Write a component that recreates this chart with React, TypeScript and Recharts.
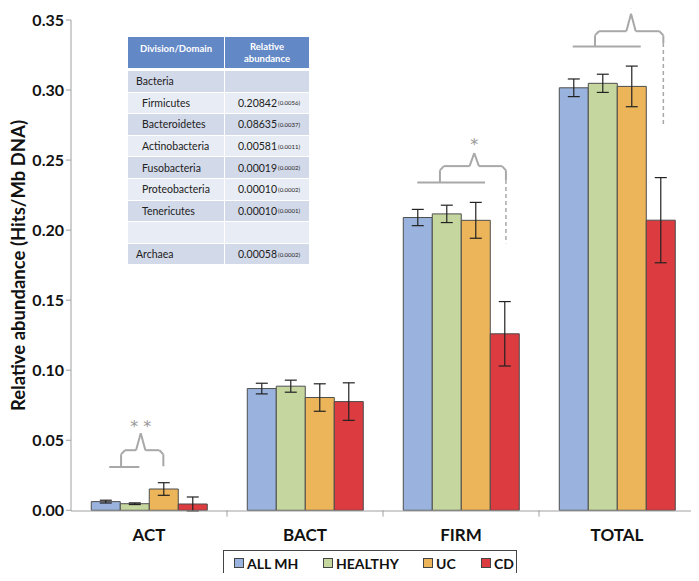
import React from 'react';
import { BarChart, Bar, XAxis, YAxis, ErrorBar, ReferenceLine, Legend } from 'recharts';

const categories = ['ACT', 'BACT', 'FIRM', 'TOTAL'];
const allMh = [0.0062, 0.0869, 0.2090, 0.3016];
const allMhErr = [0.0010, 0.0038, 0.0058, 0.0063];
const healthy = [0.0047, 0.0886, 0.2116, 0.3048];
const healthyErr = [0.0006, 0.0043, 0.0062, 0.0065];
const uc = [0.0152, 0.0805, 0.2070, 0.3026];
const ucErr = [0.0045, 0.0098, 0.0128, 0.0145];
const cd = [0.0045, 0.0776, 0.1260, 0.2071];
const cdErr = [0.0050, 0.0134, 0.0230, 0.0304];

const yTicks = [0, 0.05, 0.1, 0.15, 0.2, 0.25, 0.3, 0.35];

const seriesNames = ['ALL MH', 'HEALTHY', 'UC', 'CD'];
const seriesColors = ['#9ab3de', '#c5d69e', '#edb55a', '#dc3b3f'];

// table in the upper-left
const tableRows = [
  { name: 'Bacteria', value: '', sd: '', indent: false },
  { name: 'Firmicutes', value: '0.20842', sd: '(0.0056)', indent: true },
  { name: 'Bacteroidetes', value: '0.08635', sd: '(0.0037)', indent: true },
  { name: 'Actinobacteria', value: '0.00581', sd: '(0.0011)', indent: true },
  { name: 'Fusobacteria', value: '0.00019', sd: '(0.0002)', indent: true },
  { name: 'Proteobacteria', value: '0.00010', sd: '(0.0002)', indent: true },
  { name: 'Tenericutes', value: '0.00010', sd: '(0.0001)', indent: true },
  { name: '', value: '', sd: '', indent: false },
  { name: 'Archaea', value: '0.00058', sd: '(0.0002)', indent: false },
];

// significance brackets (x in category units on a 0..4 axis, y in data units)
const brackets = [
  { hx1: 0.245, hx2: 0.438, hy: 0.0309, left: 0.321, right: 0.592, center: 0.447, top: 0.0429, peak: 0.0550, rightEnd: 0.0314, dashEnd: null as number | null, stars: '* *', starY: 0.0621 },
  { hx1: 2.220, hx2: 2.654, hy: 0.2340, left: 2.365, right: 2.788, center: 2.585, top: 0.2457, peak: 0.2550, rightEnd: 0.2357, dashEnd: 0.1907 as number | null, stars: '*', starY: 0.2632 },
  { hx1: 3.216, hx2: 3.652, hy: 0.3310, left: 3.359, right: 3.797, center: 3.590, top: 0.3420, peak: 0.3545, rightEnd: 0.3336, dashEnd: 0.2750 as number | null, stars: '*', starY: 0.3608 },
];

const data = categories.map((c, i) => ({
  x: i + 0.5,
  cat: c,
  allMh: allMh[i], allMhErr: allMhErr[i],
  healthy: healthy[i], healthyErr: healthyErr[i],
  uc: uc[i], ucErr: ucErr[i],
  cd: cd[i], cdErr: cdErr[i],
}));

const catTicks = categories.map((_, i) => i + 0.5);
const boundaries = categories.map((_, i) => i + 1);

const FONT = 'Lato, "Open Sans", sans-serif';
const GREY = '#a8a8a8';
const AXIS = '#a0a0a0';
const SHIFT = 12;

const CatTick = (props: any) => {
  const { x, y, payload } = props;
  const v = payload.value as number;
  return (
    <text x={x} y={y + 30} textAnchor="middle" fontFamily={FONT} fontWeight="bold" fontSize={17} fill="#111">
      {categories[Math.floor(v)]}
    </text>
  );
};

const LegendContent = (props: any) => {
  const payload = [...(props.payload || [])].sort(
    (a: any, b: any) => seriesNames.indexOf(a.value) - seriesNames.indexOf(b.value)
  );
  const widths = [89, 100, 58, 34];
  return (
    <div style={{ border: '1.5px solid #444', height: 24, display: 'flex', alignItems: 'center', paddingLeft: 10, boxSizing: 'content-box', background: '#fff' }}>
      {payload.map((p: any, i: number) => (
        <div key={i} style={{ display: 'flex', alignItems: 'center', width: widths[i], whiteSpace: 'nowrap' }}>
          <span style={{ display: 'inline-block', width: 8, height: 8, background: p.color, border: '1px solid #444', marginRight: 3 }} />
          <span style={{ fontFamily: FONT, fontWeight: 'bold', fontSize: 14, color: '#111' }}>{p.value}</span>
        </div>
      ))}
    </div>
  );
};

const StarShape = (text: string) => (p: any) => (
  <text x={p.x1} y={p.y1} dy={8.5} textAnchor="middle" fontFamily='"DejaVu Sans", sans-serif' fontSize={16} fill="#999">
    {text}
  </text>
);

const InfoTable = () => {
  const dark = '#d2d9e9';
  const light = '#e8ecf4';
  return (
    <div style={{ position: 'absolute', left: 128, top: 37 + SHIFT, width: 181, fontFamily: FONT, fontSize: 10.5, color: '#222' }}>
      <div style={{ display: 'flex', height: 31, background: '#6388c6', color: '#fff', fontWeight: 'bold', fontSize: 9.5 }}>
        <div style={{ width: 96, display: 'flex', alignItems: 'center', justifyContent: 'center', paddingBottom: 8 }}>Division/Domain</div>
        <div style={{ width: 1, background: '#fff' }} />
        <div style={{ width: 84, display: 'flex', alignItems: 'center', justifyContent: 'center', textAlign: 'center', lineHeight: '12px' }}>Relative<br />abundance</div>
      </div>
      <div style={{ height: 3 }} />
      {tableRows.map((r, i) => (
        <div key={i} style={{ display: 'flex', height: 20.6, marginBottom: 1, background: i % 2 === 0 ? dark : light }}>
          <div style={{ width: 96, display: 'flex', alignItems: 'center', paddingLeft: r.indent ? 14 : 8, boxSizing: 'border-box' }}>{r.name}</div>
          <div style={{ width: 1, background: '#fff' }} />
          <div style={{ width: 84, display: 'flex', alignItems: 'center', paddingLeft: 13, boxSizing: 'border-box', whiteSpace: 'nowrap' }}>
            {r.value}
            {r.sd ? <span style={{ fontSize: 6, marginLeft: 1 }}>{r.sd}</span> : null}
          </div>
        </div>
      ))}
    </div>
  );
};

export default function App() {
  const seriesKeys = ['allMh', 'healthy', 'uc', 'cd'];
  const errKeys = ['allMhErr', 'healthyErr', 'ucErr', 'cdErr'];
  const refs: React.ReactNode[] = [];
  boundaries.forEach((b, i) => {
    refs.push(
      <ReferenceLine key={`t${i}`} segment={[{ x: b, y: 0 }, { x: b, y: -0.0045 }]} stroke={AXIS} strokeWidth={1} ifOverflow="visible" />
    );
  });
  brackets.forEach((b, bi) => {
    const cx = 0.025;
    const cy = 0.003;
    const w = 0.03;
    const pts = [
      [b.left, b.hy], [b.left, b.top - cy], [b.left + cx, b.top], [b.center - w, b.top], [b.center, b.peak],
      [b.center + w, b.top], [b.right - cx, b.top], [b.right, b.top - cy], [b.right, b.rightEnd],
    ];
    refs.push(
      <ReferenceLine key={`h${bi}`} segment={[{ x: b.hx1, y: b.hy }, { x: b.hx2, y: b.hy }]} stroke={GREY} strokeWidth={2} ifOverflow="visible" />
    );
    for (let k = 0; k < pts.length - 1; k++) {
      refs.push(
        <ReferenceLine key={`b${bi}-${k}`} segment={[{ x: pts[k][0], y: pts[k][1] }, { x: pts[k + 1][0], y: pts[k + 1][1] }]} stroke={GREY} strokeWidth={2} ifOverflow="visible" />
      );
    }
    if (b.dashEnd !== null) {
      refs.push(
        <ReferenceLine key={`d${bi}`} segment={[{ x: b.right, y: b.rightEnd }, { x: b.right, y: b.dashEnd }]} stroke={GREY} strokeWidth={1.5} strokeDasharray="4 3" ifOverflow="visible" />
      );
    }
    refs.push(
      <ReferenceLine key={`s${bi}`} segment={[{ x: b.center, y: b.starY }, { x: b.center, y: b.starY }]} ifOverflow="visible" shape={StarShape(b.stars)} />
    );
  });

  return (
    <div style={{ position: 'relative', width: 699, height: 581 + SHIFT, margin: `${-8 - SHIFT}px -8px -8px -8px` }}>
      <BarChart
        width={699}
        height={581 + SHIFT}
        data={data}
        margin={{ top: 20 + SHIFT, right: 4, left: 8, bottom: 2 }}
        barCategoryGap="13%"
        barGap={0}
        style={{ overflow: 'visible' }}
      >
        <XAxis
          dataKey="x"
          type="number"
          domain={[0, 4]}
          allowDataOverflow
          ticks={catTicks}
          tickLine={false}
          tickSize={0}
          tickMargin={0}
          tick={<CatTick />}
          axisLine={{ stroke: AXIS }}
          height={42}
          interval={0}
        />
        <YAxis
          domain={[0, 0.35]}
          ticks={yTicks}
          tickFormatter={(v: number) => v.toFixed(2)}
          width={63}
          axisLine={{ stroke: AXIS }}
          tickLine={{ stroke: AXIS }}
          tickSize={5}
          tickMargin={2}
          tick={{ fontFamily: FONT, fontWeight: 'bold', fontSize: 16, fill: '#111' }}
          interval={0}
          label={{ value: 'Relative abundance (Hits/Mb DNA)', angle: -90, position: 'insideLeft', offset: 10, style: { textAnchor: 'middle', fontFamily: FONT, fontWeight: 'bold', fontSize: 18.5, fill: '#111' } }}
        />
        {seriesKeys.map((k, i) => (
          <Bar key={k} dataKey={k} name={seriesNames[i]} fill={seriesColors[i]} stroke="#4d4d4d" strokeWidth={1} isAnimationActive={false}>
            <ErrorBar dataKey={errKeys[i]} width={6} stroke="#222" strokeWidth={1.2} direction="y" />
          </Bar>
        ))}
        {refs}
        <Legend content={<LegendContent />} verticalAlign="bottom" wrapperStyle={{ left: 223, width: 294, top: 550 + SHIFT, bottom: 'auto' }} />
      </BarChart>
      <InfoTable />
    </div>
  );
}
